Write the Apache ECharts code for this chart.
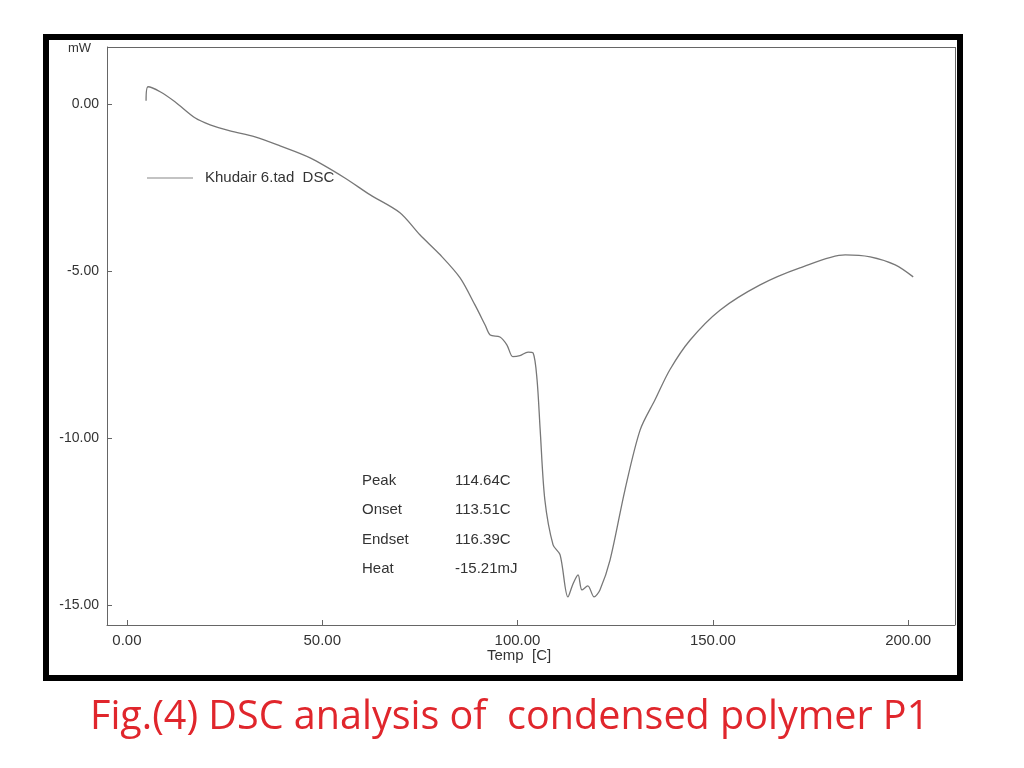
<!DOCTYPE html>
<html><head><meta charset="utf-8">
<script src="https://cdn.jsdelivr.net/npm/echarts@6/dist/echarts.min.js"></script>
<style>html,body{margin:0;padding:0;background:#fff}#c{width:1024px;height:768px}</style>
</head><body><div id="c"></div>
<script>
const temps = [4.9,5.4,8.5,12.3,17.4,21.3,26.4,32.8,39.2,46.9,55.8,62.2,69.9,75.0,80.2,85.3,89.1,91.7,93.0,95.5,97.3,98.8,100.6,102.7,104.0,105.0,105.8,107.0,109.1,110.9,112.9,114.2,115.5,116.5,118.0,119.6,121.1,123.7,127.5,131.4,135.2,139.0,144.2,151.9,162.1,172.3,183.9,190.3,196.7,201.3];
const heatFlow = [0.09,0.51,0.36,0.06,-0.42,-0.63,-0.81,-0.99,-1.26,-1.62,-2.22,-2.72,-3.26,-3.92,-4.52,-5.21,-6.02,-6.62,-6.92,-6.98,-7.22,-7.57,-7.54,-7.43,-7.46,-8.26,-9.76,-11.86,-13.2,-13.5,-14.76,-14.37,-14.1,-14.55,-14.43,-14.76,-14.55,-13.65,-11.56,-9.76,-8.86,-7.96,-7.07,-6.17,-5.42,-4.91,-4.52,-4.58,-4.82,-5.18];
const xTicks = [0,50,100,150,200];
const yTicks = [0,-5,-10,-15];
const annLabels = ['Peak','Onset','Endset','Heat'];
const annValues = ['114.64C','113.51C','116.39C','-15.21mJ'];
const chart = echarts.init(document.getElementById('c'));
const F = 'Liberation Sans, Arial, sans-serif';
const g = [
 {type:'rect',shape:{x:46,y:37,width:914,height:641},style:{fill:'none',stroke:'#000',lineWidth:6},z:10},
 {type:'text',left:68,top:42,style:{text:'mW',font:'13px '+F,fill:'#333'}},
 {type:'text',left:487,top:648,style:{text:'Temp  [C]',font:'15px '+F,fill:'#333'}},
 {type:'line',shape:{x1:147,y1:178,x2:193,y2:178},style:{stroke:'#888',lineWidth:1.2}},
 {type:'text',left:205,top:170,style:{text:'Khudair 6.tad  DSC',font:'15px '+F,fill:'#333'}},
 {type:'text',left:90,top:698,style:{text:'Fig.(4) DSC analysis of  condensed polymer P1',font:'39.5px "Open Sans", '+F,fill:'#e0262c'}}
];
annLabels.forEach((l,i)=>{
 g.push({type:'text',left:362,top:473+i*29.5,style:{text:l,font:'15px '+F,fill:'#333'}});
 g.push({type:'text',left:455,top:473+i*29.5,style:{text:annValues[i],font:'15px '+F,fill:'#333'}});
});
chart.setOption({
 animation:false,
 grid:{left:107,right:69,top:47,bottom:143},
 graphic:g,
 xAxis:{type:'value',min:-5.1,max:212,
  axisLine:{onZero:false,lineStyle:{color:'#666'}},
  axisTick:{customValues:xTicks,inside:true,lineStyle:{color:'#666'}},
  axisLabel:{customValues:xTicks,formatter:v=>v.toFixed(2),color:'#333',fontSize:15,fontFamily:F},
  splitLine:{show:false}},
 yAxis:{type:'value',min:-15.6,max:1.7,
  axisLine:{show:true,onZero:false,lineStyle:{color:'#666'}},
  axisTick:{customValues:yTicks,inside:true,lineStyle:{color:'#666'}},
  axisLabel:{customValues:yTicks,formatter:v=>v.toFixed(2),color:'#333',fontSize:14,fontFamily:F},
  splitLine:{show:false}},
 series:[
  {type:'line',data:temps.map((t,i)=>[t,heatFlow[i]]),smooth:0.3,showSymbol:false,
   lineStyle:{color:'#777',width:1.3}},
  {type:'line',data:[[0,0]],showSymbol:false,lineStyle:{opacity:0},
   markLine:{silent:true,symbol:'none',label:{show:false},lineStyle:{color:'#666',type:'solid',width:1},data:[[{coord:[-5.1,1.7]},{coord:[212,1.7]}],[{coord:[212,1.7]},{coord:[212,-15.6]}]]}}
 ]
});
</script></body></html>
